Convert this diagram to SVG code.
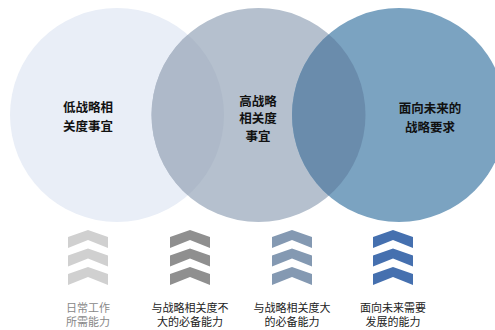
<svg xmlns="http://www.w3.org/2000/svg" width="495" height="330" viewBox="0 0 495 330">
<style>
.t{font-family:"Noto Sans CJK SC","Noto Sans",sans-serif;font-size:12.5px;font-weight:bold;fill:#111;text-anchor:middle}
.l{font-family:"Noto Sans CJK SC","Noto Sans",sans-serif;font-size:11px;fill:#222;text-anchor:middle}
</style>
<defs>
<clipPath id="c1"><circle cx="117" cy="115" r="107"/></clipPath>
<clipPath id="c2"><circle cx="258.5" cy="115" r="107"/></clipPath>
<polygon id="ch" points="0,0 20,7 20,18 0,10 -20,18 -20,7"/>
</defs>
<rect width="495" height="330" fill="#fff"/>
<g id="circle-low">
<circle cx="117" cy="115" r="107" fill="#E9EEF7"/>
</g>
<g id="circle-high">
<circle cx="258.5" cy="115" r="107" fill="#B5C0CE"/>
<circle cx="258.5" cy="115" r="107" fill="#AEB9C9" clip-path="url(#c1)"/>
</g>
<g id="circle-future">
<circle cx="399" cy="115" r="107" fill="#7BA3C1"/>
<circle cx="399" cy="115" r="107" fill="#6A8CAC" clip-path="url(#c2)"/>
</g>
<g id="labels-circles">
<text class="t" x="88" y="112">低战略相</text>
<text class="t" x="88" y="131">关度事宜</text>
<text class="t" x="258" y="105.5">高战略</text>
<text class="t" x="258" y="123">相关度</text>
<text class="t" x="258" y="140.5">事宜</text>
<text class="t" x="430" y="113">面向未来的</text>
<text class="t" x="430" y="132">战略要求</text>
</g>
<g id="chev-1" fill="#D0D0D0">
<use href="#ch" x="88" y="230"/><use href="#ch" x="88" y="248.5"/><use href="#ch" x="88" y="267"/>
<text class="l" x="88" y="311.5" style="fill:#888">日常工作</text>
<text class="l" x="88" y="326" style="fill:#888">所需能力</text>
</g>
<g id="chev-2" fill="#8F8F8F">
<use href="#ch" x="190" y="230"/><use href="#ch" x="190" y="248.5"/><use href="#ch" x="190" y="267"/>
<text class="l" x="190" y="311.5">与战略相关度不</text>
<text class="l" x="190" y="326">大的必备能力</text>
</g>
<g id="chev-3" fill="#8499B2">
<use href="#ch" x="292" y="230"/><use href="#ch" x="292" y="248.5"/><use href="#ch" x="292" y="267"/>
<text class="l" x="292" y="311.5">与战略相关度大</text>
<text class="l" x="292" y="326">的必备能力</text>
</g>
<g id="chev-4" fill="#4570AF">
<use href="#ch" x="393" y="230"/><use href="#ch" x="393" y="248.5"/><use href="#ch" x="393" y="267"/>
<text class="l" x="393" y="311.5">面向未来需要</text>
<text class="l" x="393" y="326">发展的能力</text>
</g>
<g id="connectors"/>
</svg>
